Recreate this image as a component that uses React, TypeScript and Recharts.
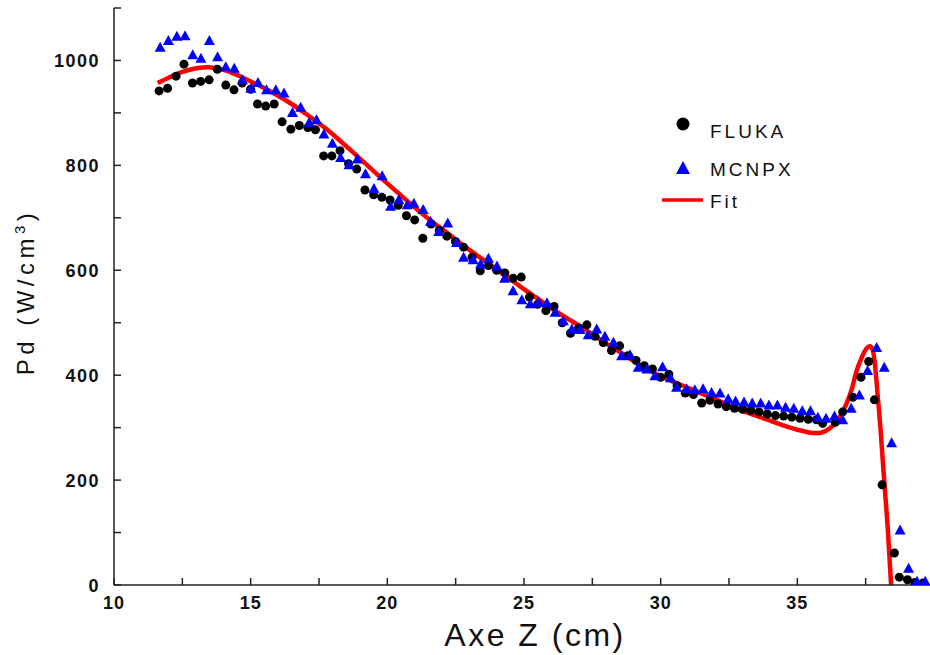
import { ComposedChart, Scatter, Line, XAxis, YAxis, Legend } from "recharts";

// FLUKA (black dots)
const FLUKA_Z = [
  11.65, 11.96, 12.27, 12.56, 12.87, 13.17, 13.48, 13.78, 14.09, 14.39, 14.69, 15.0, 15.25, 15.55, 15.86,
  16.15, 16.47, 16.78, 17.09, 17.37, 17.67, 17.97, 18.27, 18.58, 18.88, 19.18, 19.5, 19.8, 20.1, 20.4,
  20.7, 21.0, 21.3, 21.6, 21.9, 22.18, 22.49, 22.79, 23.1, 23.4, 23.7, 24.0, 24.3, 24.6, 24.9,
  25.2, 25.5, 25.8, 26.1, 26.4, 26.7, 27.0, 27.3, 27.6, 27.9, 28.2, 28.5, 28.8, 29.1, 29.4,
  29.7, 30.0, 30.3, 30.6, 30.9, 31.2, 31.5, 31.8, 32.1, 32.4, 32.7, 33.0, 33.3, 33.6, 33.9,
  34.2, 34.5, 34.8, 35.1, 35.4, 35.7, 35.93, 36.39, 36.66, 37.03, 37.33, 37.61, 37.82, 38.1, 38.55,
  38.73, 39.03, 39.3, 39.6,
];
const FLUKA_PD = [
  942, 947, 970, 993, 957, 960, 963, 983, 953, 944, 957, 945, 917, 913, 917,
  883, 869, 876, 872, 868, 818, 818, 828, 803, 793, 753, 744, 739, 734, 724,
  704, 696, 661, 688, 676, 665, 655, 644, 625, 599, 609, 600, 595, 585, 587,
  549, 535, 523, 531, 500, 480, 490, 496, 474, 462, 447, 456, 437, 428, 418,
  412, 396, 402, 380, 366, 363, 347, 352, 345, 340, 337, 335, 333, 330, 326,
  323, 322, 320, 318, 316, 315, 308, 310, 330, 358, 396, 426, 353, 191, 61,
  15, 10, 5, 4,
];

// MCNPX (blue triangles)
const MCNPX_Z = [
  11.69, 11.99, 12.3, 12.6, 12.88, 13.18, 13.49, 13.79, 14.09, 14.4, 14.7, 15.01, 15.27, 15.58, 15.92,
  16.22, 16.53, 16.83, 17.14, 17.41, 17.68, 17.99, 18.29, 18.6, 18.9, 19.2, 19.51, 19.81, 20.12, 20.42,
  20.73, 20.97, 21.31, 21.58, 21.88, 22.21, 22.53, 22.79, 23.14, 23.41, 23.7, 24.01, 24.29, 24.6, 24.92,
  25.23, 25.53, 25.84, 26.14, 26.44, 26.75, 27.05, 27.35, 27.66, 27.96, 28.27, 28.57, 28.88, 29.18, 29.49,
  29.79, 30.07, 30.36, 30.58, 30.95, 31.25, 31.55, 31.86, 32.17, 32.47, 32.74, 33.05, 33.35, 33.66, 33.96,
  34.27, 34.57, 34.87, 35.18, 35.48, 35.75, 36.05, 36.36, 36.66, 36.97, 37.27, 37.57, 37.9, 38.18, 38.45,
  38.76, 39.07, 39.38, 39.68,
];
const MCNPX_PD = [
  1025, 1038, 1046, 1047, 1011, 1004, 1038, 1007, 988, 985, 963, 947, 958, 944, 944,
  938, 901, 911, 882, 887, 860, 842, 815, 801, 812, 784, 756, 780, 722, 735,
  725, 728, 716, 693, 674, 690, 653, 625, 620, 612, 623, 608, 585, 561, 544,
  536, 539, 538, 520, 504, 488, 487, 477, 488, 474, 463, 437, 439, 415, 412,
  399, 416, 395, 377, 374, 372, 374, 367, 366, 355, 351, 349, 347, 347, 343,
  343, 339, 337, 332, 332, 320, 318, 322, 315, 337, 362, 409, 453, 415, 271,
  105, 32, 7, 7,
];

// Fit (red curve)
const FIT_Z = [
  11.6, 12.0, 12.5, 13.0, 13.45, 14.0, 14.6, 15.2, 15.86, 16.5, 17.08, 17.7, 18.27, 18.7, 19.14,
  19.75, 20.36, 21.0, 21.58, 22.2, 22.79, 23.4, 24.0, 24.5, 25.0, 25.5, 26.0, 26.5, 27.3, 27.9,
  28.51, 29.1, 29.73, 30.35, 30.95, 31.55, 32.14, 32.65, 33.25, 33.86, 34.45, 35.08, 35.57, 35.81, 36.05,
  36.3, 36.55, 36.79, 37.0, 37.15, 37.35, 37.52, 37.65, 37.76, 37.86, 37.94, 38.04, 38.13, 38.22, 38.31,
  38.43,
];
const FIT_PD = [
  957, 967, 978, 985, 987, 982, 970, 955, 937, 917, 896, 872, 847, 827, 806,
  777, 749, 720, 695, 671, 647, 624, 602, 583, 564, 546, 528, 511, 485, 464,
  444, 424, 405, 390, 377, 364, 351, 339, 327, 316, 305, 295, 290, 290, 294,
  304, 320, 345, 375, 405, 433, 450, 455, 448, 410, 361, 300, 234, 170, 107,
  0,
];

const X_TICKS = [10, 12.5, 15, 17.5, 20, 22.5, 25, 27.5, 30, 32.5, 35, 37.5, 40];
const X_LABELS = [10, 15, 20, 25, 30, 35];
const Y_TICKS = [0, 100, 200, 300, 400, 500, 600, 700, 800, 900, 1000, 1100];
const Y_LABELS = [0, 200, 400, 600, 800, 1000];

const fluka = FLUKA_Z.map((z, i) => ({ z, pd: FLUKA_PD[i] }));
const mcnpx = MCNPX_Z.map((z, i) => ({ z, pd: MCNPX_PD[i] }));
const fit = FIT_Z.map((z, i) => ({ z, pd: FIT_PD[i] }));

const AXIS = "#222";
const TICK_FONT = { fontFamily: "'Liberation Sans', Arial, sans-serif", fontWeight: 700, fontSize: 18, fill: "#111" };
const TEXT_FONT = "'Liberation Sans', Arial, sans-serif";

function Dot(p: any) {
  return <circle cx={p.cx} cy={p.cy} r={4.5} fill="#000" />;
}

function Tri(p: any) {
  const { cx, cy } = p;
  return <polygon points={`${cx},${cy - 5.5} ${cx - 5.5},${cy + 4.5} ${cx + 5.5},${cy + 4.5}`} fill="#0000ff" />;
}

function XTick(p: any) {
  if (!X_LABELS.includes(p.payload.value)) return <g />;
  return (
    <text x={p.x} y={p.y + 13} textAnchor="middle" {...TICK_FONT} letterSpacing={1}>
      {p.payload.value}
    </text>
  );
}

function YTick(p: any) {
  if (!Y_LABELS.includes(p.payload.value)) return <g />;
  return (
    <text x={p.x} y={p.y + 6.5} textAnchor="end" {...TICK_FONT} letterSpacing={1.5}>
      {p.payload.value}
    </text>
  );
}

function LegendBox() {
  return (
    <svg width={170} height={120}>
      <circle cx={33} cy={24} r={6.5} fill="#000" />
      <text x={60} y={38} fontFamily={TEXT_FONT} fontSize={19} letterSpacing={3} fill="#111">FLUKA</text>
      <polygon points="33,61 26,74 40,74" fill="#0000ff" />
      <text x={60} y={76} fontFamily={TEXT_FONT} fontSize={19} letterSpacing={3} fill="#111">MCNPX</text>
      <line x1={12} y1={100} x2={53} y2={100} stroke="#ff0000" strokeWidth={3.5} />
      <text x={60} y={108} fontFamily={TEXT_FONT} fontSize={19} letterSpacing={3} fill="#111">Fit</text>
    </svg>
  );
}

export default function App() {
  return (
    <div style={{ position: "absolute", left: 0, top: 0, width: 930, height: 655, background: "#fff" }}>
      <ComposedChart width={930} height={655} margin={{ top: 8, right: -4, bottom: 0, left: 0 }}>
        <XAxis
          xAxisId={0}
          dataKey="z"
          type="number"
          domain={[10, 40]}
          ticks={X_TICKS}
          allowDataOverflow
          height={70}
          stroke={AXIS}
          strokeWidth={1.5}
          tickSize={-7}
          tickMargin={18}
          tick={<XTick />}
          label={{
            content: () => (
              <text x={535} y={646} textAnchor="middle" fontFamily={TEXT_FONT} fontSize={32} letterSpacing={2.5} fill="#111">
                Axe Z (cm)
              </text>
            ),
          }}
        />
        <XAxis
          xAxisId="top"
          orientation="top"
          dataKey="z"
          type="number"
          domain={[10, 40]}
          ticks={X_TICKS}
          allowDataOverflow
          height={0}
          stroke={AXIS}
          strokeWidth={1.5}
          tickSize={-7}
          tick={() => <g />}
        />
        <YAxis
          yAxisId={0}
          type="number"
          domain={[0, 1100]}
          ticks={Y_TICKS}
          allowDataOverflow
          width={114}
          stroke={AXIS}
          strokeWidth={1.5}
          tickSize={-7}
          tickMargin={21}
          tick={<YTick />}
          label={{
            content: () => (
              <text
                transform="translate(34,292) rotate(-90)"
                textAnchor="middle"
                fontFamily={TEXT_FONT}
                fontSize={24}
                letterSpacing={4.5}
                fill="#111"
              >
                Pd (W/cm<tspan fontSize={15} dy={-9}>3</tspan>
                <tspan dy={9}>)</tspan>
              </text>
            ),
          }}
        />
        <YAxis
          yAxisId="right"
          orientation="right"
          type="number"
          domain={[0, 1100]}
          ticks={Y_TICKS}
          allowDataOverflow
          width={0}
          stroke={AXIS}
          strokeWidth={1.5}
          tickSize={-7}
          tick={() => <g />}
        />
        <Scatter name="FLUKA" data={fluka} dataKey="pd" shape={Dot} isAnimationActive={false} />
        <Scatter name="MCNPX" data={mcnpx} dataKey="pd" shape={Tri} isAnimationActive={false} />
        <Line
          name="Fit"
          data={fit}
          dataKey="pd"
          type="monotone"
          stroke="#ff0000"
          strokeWidth={4.5}
          dot={false}
          activeDot={false}
          isAnimationActive={false}
        />
        <Legend
          layout="horizontal"
          verticalAlign="middle"
          align="center"
          wrapperStyle={{ left: 650, top: 100, width: 170, height: 120 }}
          content={() => <LegendBox />}
        />
      </ComposedChart>
    </div>
  );
}
